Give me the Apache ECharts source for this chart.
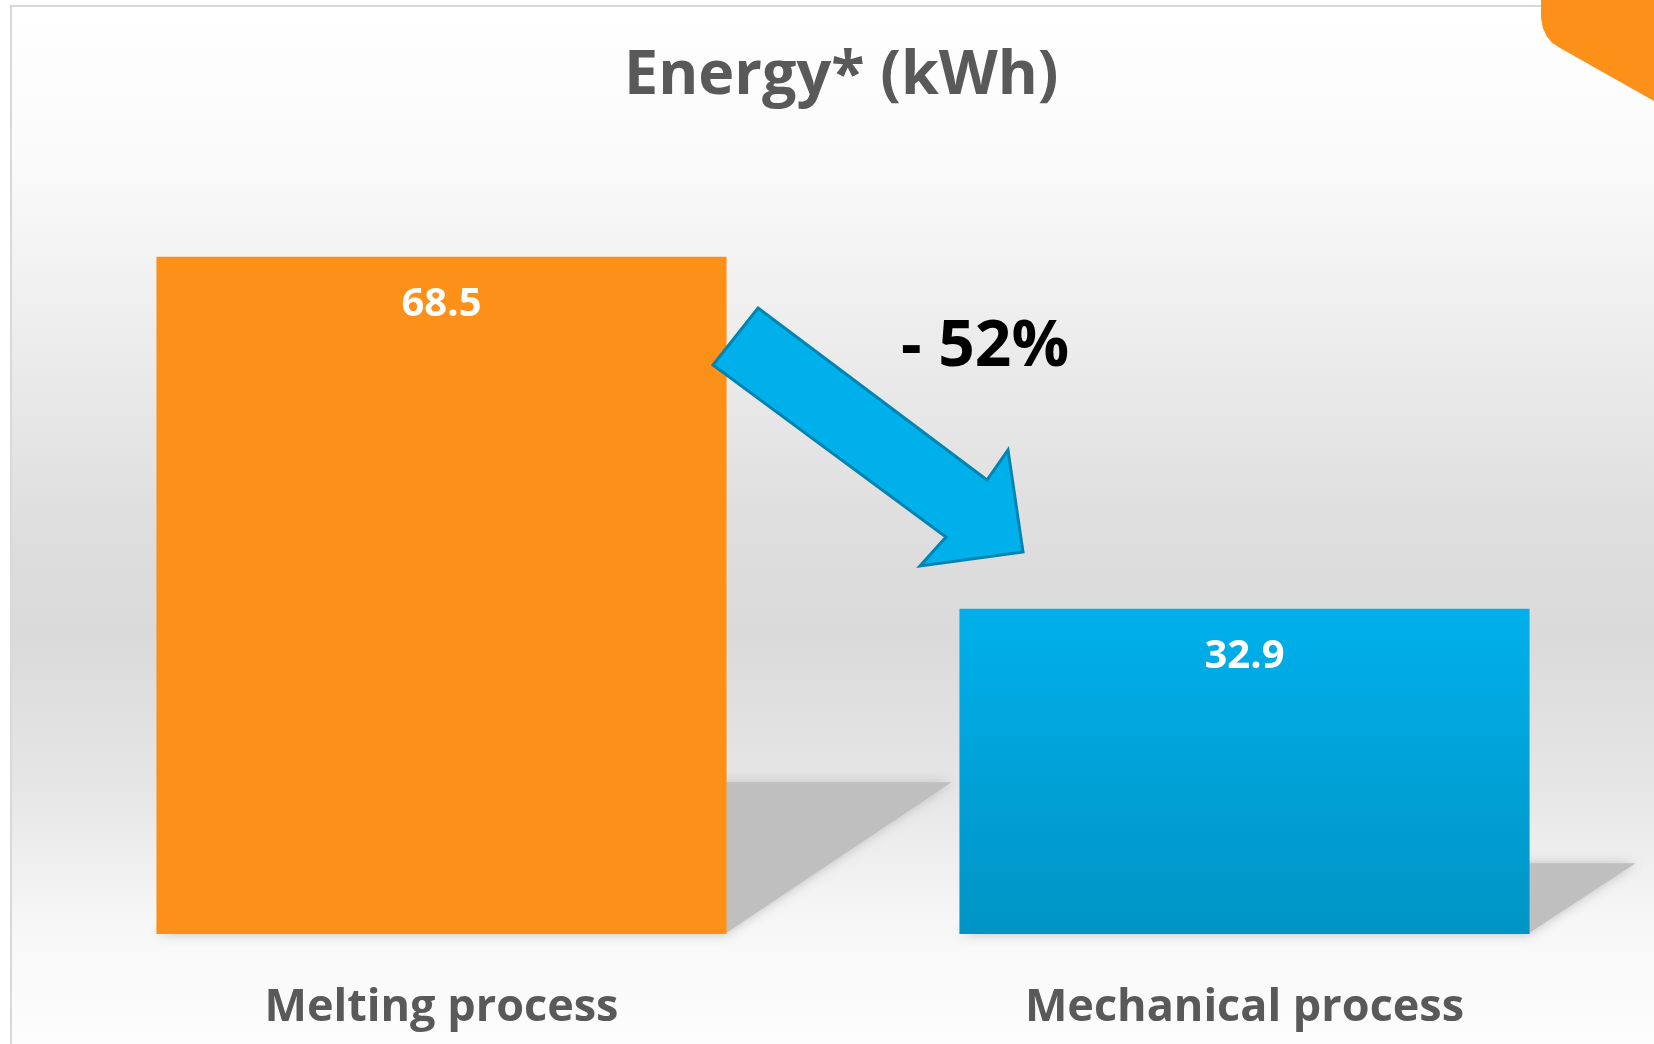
<!DOCTYPE html>
<html><head><meta charset="utf-8">
<script src="https://cdn.jsdelivr.net/npm/echarts@6/dist/echarts.min.js"></script>
<style>html,body{margin:0;padding:0;background:#fff}#c{width:1654px;height:1044px}</style>
</head><body><div id="c"></div>
<script>
const categories = ['Melting process', 'Mechanical process'];
const values = [68.5, 32.9];
const changeLabel = '- 52%';
const titleText = 'Energy* (kWh)';

const FONT = '"Open Sans", "Noto Sans", sans-serif';
const chart = echarts.init(document.getElementById('c'), null, {renderer: 'canvas'});

const barColors = [
  '#FD9019',
  new echarts.graphic.LinearGradient(0, 0, 0, 1, [{offset: 0, color: '#00B0EB'}, {offset: 1, color: '#0094C5'}])
];

chart.setOption({
  backgroundColor: '#ffffff',
  animation: false,
  title: {
    text: titleText, left: 619, top: 41,
    textStyle: {fontFamily: FONT, fontWeight: 'bold', fontSize: 61, color: '#595959'}
  },
  grid: {left: 40, right: 8, top: 242, bottom: 110},
  xAxis: {
    type: 'category', data: categories,
    axisLine: {show: false}, axisTick: {show: false},
    axisLabel: {fontFamily: FONT, fontWeight: 'bold', fontSize: 45, color: '#595959', margin: 52}
  },
  yAxis: {type: 'value', min: 0, max: 70, show: false, splitLine: {show: false}},
  series: [
    {
      type: 'custom', z: 1, silent: true,
      data: values.map((v, i) => [i, v]),
      renderItem: function (params, api) {
        const idx = api.value(0), v = api.value(1);
        const base = api.coord([idx, 0]);
        const top = api.coord([idx, v]);
        const bw = api.size([1, 0])[0] * 0.71;
        const x0 = base[0] - bw / 2, x1 = base[0] + bw / 2, yb = base[1];
        const sh = (yb - top[1]) * 0.23;
        const sk = sh * 1.47;
        return {
          type: 'polygon',
          shape: {points: [[x0, yb], [x1 - 2, yb], [x1 + sk - 4, yb - sh + 4], [x0 + sk, yb - sh + 4]]},
          style: {
            fill: '#BFBFBF',
            shadowBlur: 12, shadowColor: 'rgba(185,185,185,0.9)'
          }
        };
      }
    },
    {
      type: 'bar', z: 3, barWidth: '71%',
      data: values.map((v, i) => ({value: v, itemStyle: {color: barColors[i]}})),
      label: {
        show: true, position: 'insideTop', distance: 28,
        fontFamily: FONT, fontWeight: 'bold', fontSize: 40, color: '#ffffff'
      }
    }
  ],
  graphic: [
    {
      type: 'rect', z: -100, silent: true,
      shape: {x: 11, y: 6, width: 1654, height: 1044},
      style: {
        fill: new echarts.graphic.LinearGradient(0, 0, 0, 1, [
          {offset: 0, color: '#FFFFFF'},
          {offset: 0.15, color: '#FAFAFA'},
          {offset: 0.3, color: '#EEEEEE'},
          {offset: 0.5, color: '#DEDEDE'},
          {offset: 0.6, color: '#DADADA'},
          {offset: 0.75, color: '#E6E6E6'},
          {offset: 0.88, color: '#F7F7F7'},
          {offset: 1, color: '#FDFDFD'}
        ]),
        stroke: '#D9D9D9', lineWidth: 2
      }
    },
    {
      type: 'polygon', z: 100, silent: true,
      shape: {points: [[1541, 0], [1541, 18], [1542.9, 28.1], [1546.8, 36.5], [1552.4, 43.1], [1560, 48], [1654, 101], [1654, 0]]},
      style: {fill: '#FD9019'}
    },
    {
      type: 'polygon', z: 100, silent: true,
      shape: {points: [[758, 308], [987, 480], [1008, 450], [1023, 552], [920, 566], [946, 537], [713, 365]]},
      style: {fill: '#00B0EA', stroke: '#0085B2', lineWidth: 3, lineJoin: 'miter'}
    },
    {
      type: 'text', z: 100, silent: true,
      x: 985, y: 348,
      style: {text: changeLabel, fontFamily: FONT, fontWeight: 'bold', fontSize: 64, fill: '#000000',
        textAlign: 'center', textVerticalAlign: 'middle'}
    }
  ]
});
</script></body></html>
